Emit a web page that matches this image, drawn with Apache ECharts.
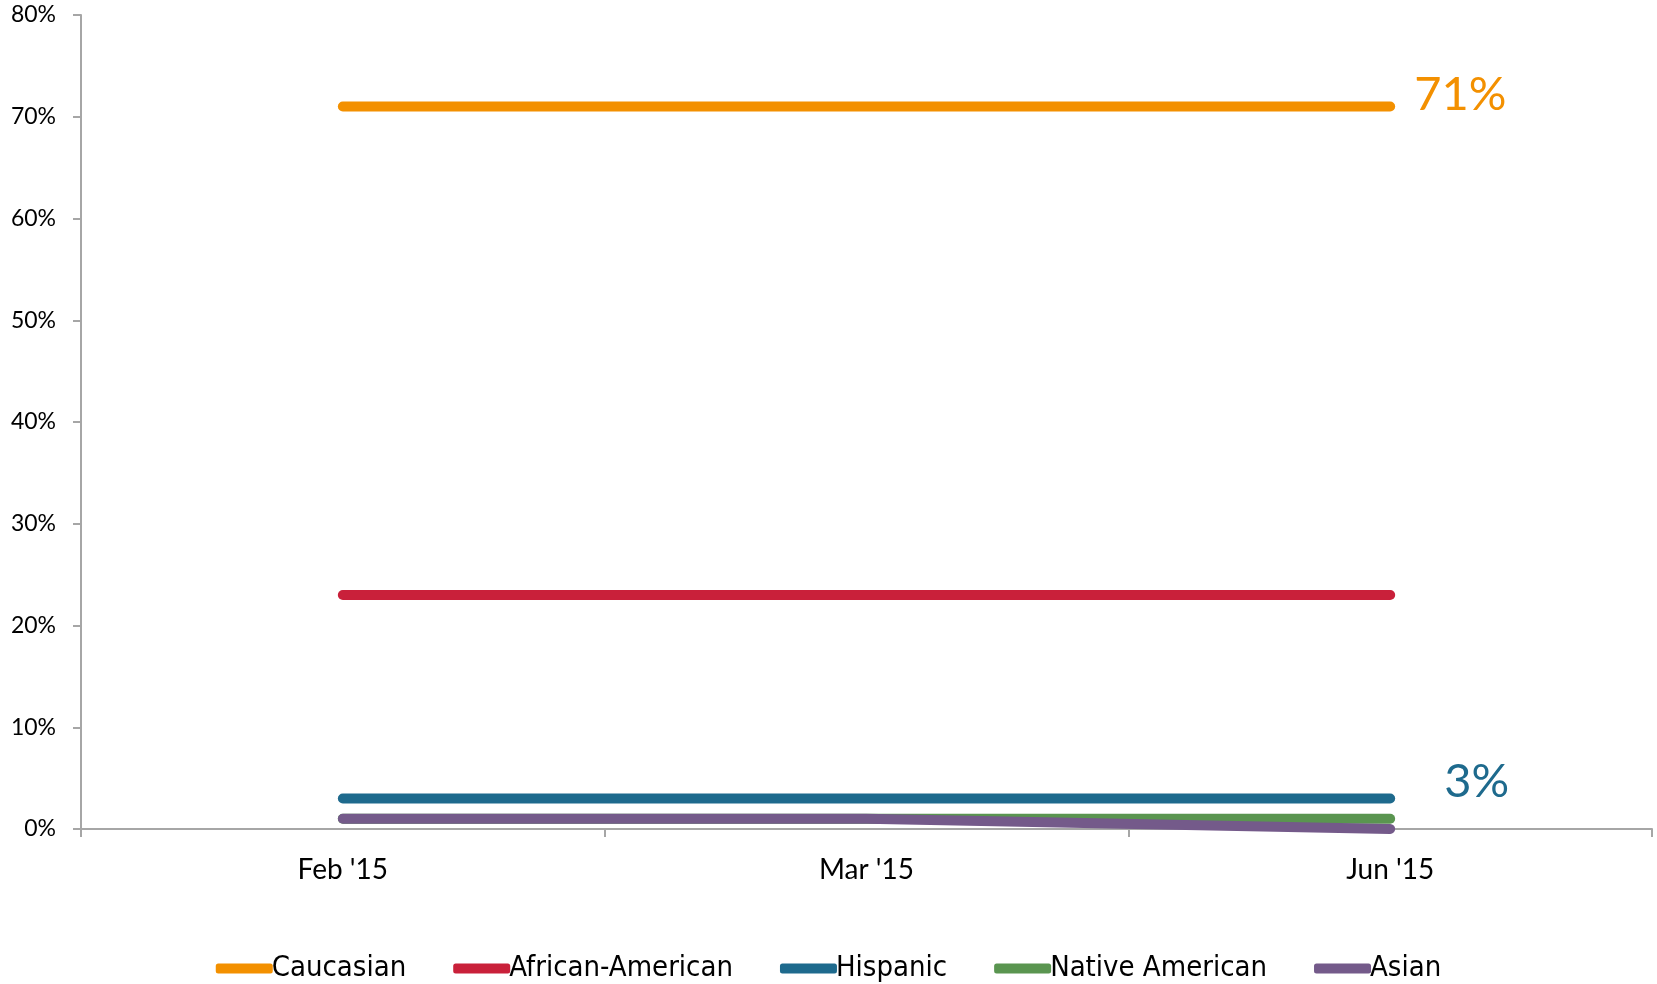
<!DOCTYPE html>
<html>
<head>
<meta charset="utf-8">
<script src="https://cdn.jsdelivr.net/npm/echarts@6/dist/echarts.min.js"></script>
<style>
  html, body { margin: 0; padding: 0; background: #fff; }
  #chart { width: 1657px; height: 984px; }
</style>
</head>
<body>
<div id="chart"></div>
<script>
const categories = ["Feb '15", "Mar '15", "Jun '15"]
const seriesNames = ['Caucasian', 'African-American', 'Hispanic', 'Native American', 'Asian']
const caucasian = [71, 71, 71]
const africanAmerican = [23, 23, 23]
const hispanic = [3, 3, 3]
const nativeAmerican = [1, 1, 1]
const asian = [1, 1, 0]
const yTicks = [0, 10, 20, 30, 40, 50, 60, 70, 80]

const colors = ['#F39000', '#C9203A', '#1E6A8D', '#5A9550', '#745A8A']
const fontFamily = 'Lato, "Open Sans", sans-serif'

const myChart = echarts.init(document.getElementById('chart'))

function makeLine(name, data, color, endLabel) {
  const s = {
    name: name,
    type: 'line',
    data: data,
    showSymbol: false,
    symbol: 'none',
    lineStyle: { width: 10, color: color, cap: 'round', join: 'round' },
    itemStyle: { color: color },
    emphasis: { disabled: true },
    z: 2
  }
  if (endLabel) {
    s.endLabel = Object.assign({
      show: true,
      formatter: '{c}%',
      color: color,
      fontSize: 47,
      fontFamily: fontFamily
    }, endLabel)
  }
  return s
}

const option = {
  animation: false,
  color: colors,
  grid: {
    top: 15,
    left: 81,
    right: 5,
    bottom: 155,
    containLabel: false
  },
  legend: {
    bottom: -4,
    left: 'center',
    itemWidth: 57,
    itemHeight: 10,
    itemGap: 47,
    icon: 'roundRect',
    textStyle: {
      fontSize: 29,
      color: '#000',
      fontFamily: '"DejaVu Sans Condensed", "Liberation Sans Narrow", sans-serif',
      padding: [0, 0, 0, -6]
    },
    data: seriesNames
  },
  xAxis: {
    type: 'category',
    data: categories,
    boundaryGap: true,
    axisLine: { show: true, lineStyle: { color: '#A6A6A6', width: 2 } },
    axisTick: { show: true, length: 8, lineStyle: { color: '#A6A6A6', width: 2 }, alignWithLabel: false },
    axisLabel: { margin: 27, fontSize: 28, color: '#000', fontFamily: fontFamily },
    splitLine: { show: false }
  },
  yAxis: {
    type: 'value',
    min: yTicks[0],
    max: yTicks[yTicks.length - 1],
    interval: 10,
    axisLine: { show: true, lineStyle: { color: '#A6A6A6', width: 2 } },
    axisTick: { show: true, length: 8, inside: false, lineStyle: { color: '#A6A6A6', width: 2 } },
    axisLabel: { margin: 25, fontSize: 23, color: '#000', fontFamily: fontFamily, formatter: '{value}%' },
    splitLine: { show: false }
  },
  series: [
    makeLine(seriesNames[0], caucasian, colors[0], { offset: [16, -12] }),
    makeLine(seriesNames[1], africanAmerican, colors[1]),
    makeLine(seriesNames[2], hispanic, colors[2], { offset: [46, -17] }),
    makeLine(seriesNames[3], nativeAmerican, colors[3]),
    makeLine(seriesNames[4], asian, colors[4])
  ]
}
myChart.setOption(option)
</script>
</body>
</html>
